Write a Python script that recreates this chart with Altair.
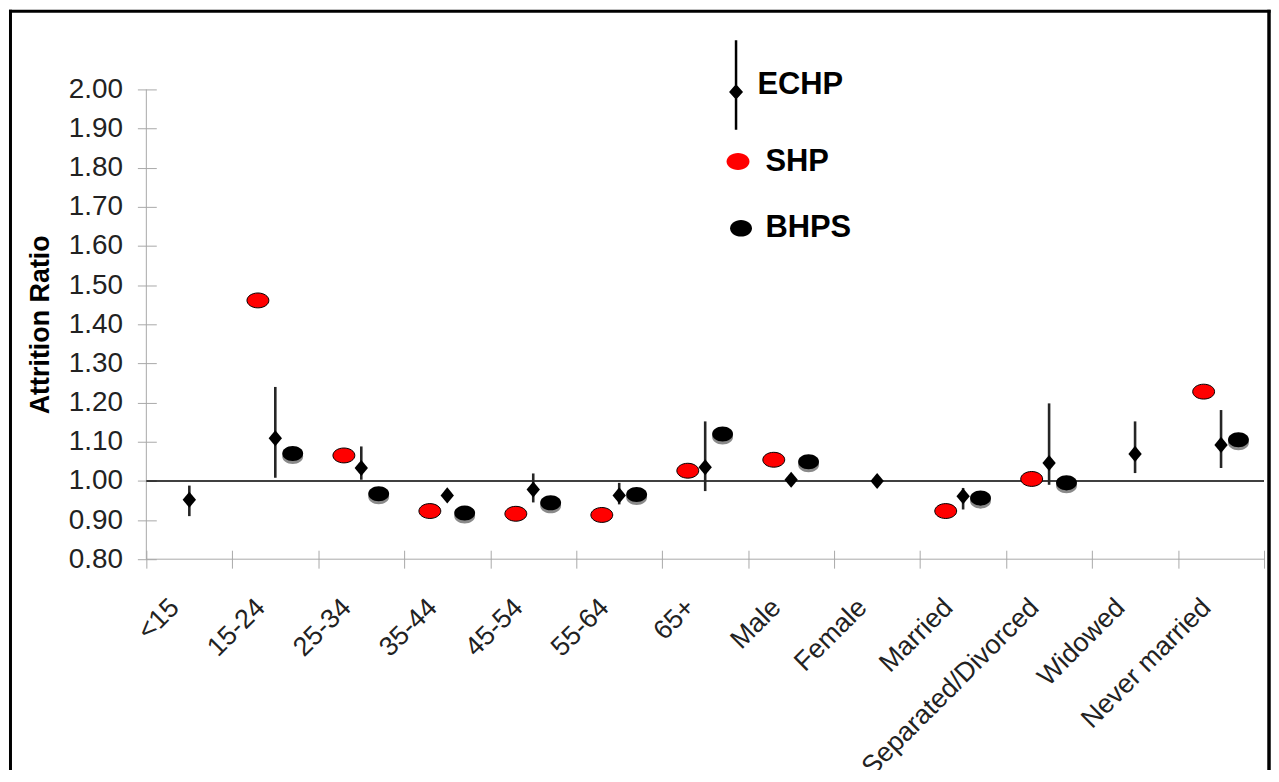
import altair as alt
import pandas as pd

# ---------------- data ----------------
categories = ["<15", "15-24", "25-34", "35-44", "45-54", "55-64", "65+",
              "Male", "Female", "Married", "Separated/Divorced", "Widowed",
              "Never married"]
echp = [0.952, 1.109, 1.033, 0.963, 0.978, 0.963, 1.035, 1.003, 1.000,
        0.961, 1.046, 1.069, 1.092]
echp_lo = [0.910, 1.008, 1.003, None, 0.945, 0.940, 0.974, None, None,
           0.927, 0.990, 1.020, 1.033]
echp_hi = [0.988, 1.240, 1.088, None, 1.019, 0.995, 1.152, None, None,
           0.982, 1.198, 1.152, 1.181]
shp = [None, 1.461, 1.065, 0.923, 0.916, 0.913, 1.026, 1.054, None,
       0.923, 1.005, None, 1.228]
bhps = [None, 1.070, 0.967, 0.918, 0.944, 0.965, 1.120, 1.049, None,
        0.956, 0.995, None, 1.105]
y_ticks = [0.80, 0.90, 1.00, 1.10, 1.20, 1.30, 1.40, 1.50, 1.60, 1.70,
           1.80, 1.90, 2.00]
y_min, y_max = 0.80, 2.00
offset_order = ["SHP", "ECHP", "BHPS"]
legend1_order = ["ECHP"]
legend2_order = ["SHP", "BHPS"]
reference_value = 1.0

# ---------------- tables ----------------
echp_df = pd.DataFrame({"category": categories, "series": "ECHP", "value": echp})
err_df = pd.DataFrame([
    {"category": c, "series": "ECHP", "lo": lo, "hi": hi}
    for c, lo, hi in zip(categories, echp_lo, echp_hi) if lo is not None
])
shp_df = pd.DataFrame([
    {"category": c, "series": "SHP", "value": v}
    for c, v in zip(categories, shp) if v is not None
])
bhps_df = pd.DataFrame([
    {"category": c, "series": "BHPS", "value": v}
    for c, v in zip(categories, bhps) if v is not None
])
legend1_df = pd.DataFrame({"series": legend1_order})
legend2_df = pd.DataFrame({"series": legend2_order})


# ---------------- symbol shapes (style) ----------------
def ellipse(rx, ry, cx=0.0, cy=0.0):
    k = 0.5523
    f = lambda v: f"{v:.4f}"
    return (f"M{f(cx-rx)},{f(cy)}"
            f"C{f(cx-rx)},{f(cy-k*ry)} {f(cx-k*rx)},{f(cy-ry)} {f(cx)},{f(cy-ry)}"
            f"C{f(cx+k*rx)},{f(cy-ry)} {f(cx+rx)},{f(cy-k*ry)} {f(cx+rx)},{f(cy)}"
            f"C{f(cx+rx)},{f(cy+k*ry)} {f(cx+k*rx)},{f(cy+ry)} {f(cx)},{f(cy+ry)}"
            f"C{f(cx-k*rx)},{f(cy+ry)} {f(cx-rx)},{f(cy+k*ry)} {f(cx-rx)},{f(cy)}Z")


diamond_path = "M-1,0L0,-1.2L1,0L0,1.2Z"
shp_path = ellipse(1.0, 0.68)
bhps_path = ellipse(1.0, 0.72)

# legend 1 symbol: 50px box (unit = 25px)
lx = 0.16
echp_leg = (f"M{lx-0.05:.3f},-1.8L{lx+0.05:.3f},-1.8L{lx+0.05:.3f},1.8L{lx-0.05:.3f},1.8Z"
            f"M{lx-0.28:.3f},0.28L{lx:.3f},-0.04L{lx+0.28:.3f},0.28L{lx:.3f},0.60Z")
# legend 2 symbols: 30px box (unit = 15px)
shp_leg = ellipse(0.767, 0.567, -0.8, 0.0)
bhps_leg = ellipse(0.733, 0.56, -0.6, 0.0)

# ---------------- encodings ----------------
axis_gray = "#a8a8a8"
x_enc = alt.X(
    "category:N", sort=categories,
    scale=alt.Scale(domain=categories, paddingInner=0, paddingOuter=0),
    axis=alt.Axis(title=None, labelAngle=315, labelAlign="right",
                  labelBaseline="middle", labelFontSize=27, labelPadding=35,
                  labelOffset=-15, tickBand="extent", tickSize=18, offset=-9,
                  domain=False, labelLimit=400, labelOverlap=False,
                  labelColor="#222222", tickColor=axis_gray, grid=False),
)
xo_enc = alt.XOffset("series:N", scale=alt.Scale(domain=offset_order,
                                                  paddingOuter=0.97,
                                                  paddingInner=0))
y_scale = alt.Scale(domain=[y_min, y_max], nice=False, zero=False)
y_axis = alt.Axis(values=y_ticks, format=".2f", title="Attrition Ratio",
                  titleFontSize=27, titleFontWeight="bold", titleColor="black",
                  titlePadding=14, labelFontSize=28, labelPadding=15,
                  labelOverlap=False, labelColor="#222222", tickSize=19,
                  offset=-10, domain=False, tickColor=axis_gray, grid=False)


def y_enc(field):
    return alt.Y(f"{field}:Q", scale=y_scale, axis=y_axis, title="Attrition Ratio")


def y_datum(v):
    return alt.YDatum(v, type="quantitative", scale=y_scale, axis=y_axis,
                      title="Attrition Ratio")


one = alt.Data(values=[{}])

# axis lines (drawn separately so the ticks can cross them)
x_domain = alt.Chart(one).mark_rule(color=axis_gray, strokeWidth=1).encode(
    y=y_datum(y_min))
y_domain = alt.Chart(one).mark_rule(color=axis_gray, strokeWidth=1).encode(
    x=alt.value(0))

ref_line = alt.Chart(one).mark_rule(color="black", strokeWidth=1.5).encode(
    y=y_datum(reference_value)
)

err = alt.Chart(err_df).mark_rule(color="#262626", strokeWidth=2.6).encode(
    x=x_enc, xOffset=xo_enc, y=y_enc("lo"), y2="hi:Q"
)

echp_pts = alt.Chart(echp_df).mark_point(
    shape=diamond_path, filled=True, color="black", size=180, opacity=1
).encode(x=x_enc, xOffset=xo_enc, y=y_enc("value"))

shp_pts = alt.Chart(shp_df).mark_point(
    shape=shp_path, filled=True, fill="#ff0000", stroke="black",
    strokeWidth=1, size=484, opacity=1
).encode(x=x_enc, xOffset=xo_enc, y=y_enc("value"))

bhps_shadow = alt.Chart(bhps_df).mark_point(
    shape=bhps_path, filled=True, color="#8a8a8a", size=441, opacity=1,
    yOffset=3
).encode(x=x_enc, xOffset=xo_enc, y=y_enc("value"))

bhps_pts = alt.Chart(bhps_df).mark_point(
    shape=bhps_path, filled=True, color="black", size=441, opacity=1
).encode(x=x_enc, xOffset=xo_enc, y=y_enc("value"))

common_leg = dict(orient="none", title=None, padding=0, labelOffset=0,
                  labelFontSize=31, labelFont="Liberation Sans",
                  labelFontWeight="bold", labelColor="black",
                  symbolStrokeColor="black", symbolStrokeWidth=1,
                  symbolOpacity=1)
legend1_def = alt.Legend(legendX=563, legendY=-30, symbolSize=2500, **common_leg)
legend2_def = alt.Legend(legendX=591, legendY=57, symbolSize=900,
                         rowPadding=35, **common_leg)

legend1_layer = alt.Chart(legend1_df).transform_filter("false").mark_point(
    filled=True, size=2500, stroke="black", strokeWidth=1, opacity=1
).encode(
    shape=alt.Shape("series:N", scale=alt.Scale(domain=legend1_order,
                    range=[echp_leg]), legend=legend1_def),
    fill=alt.Fill("series:N", scale=alt.Scale(domain=legend1_order,
                  range=["black"]), legend=legend1_def),
)
legend2_layer = alt.Chart(legend2_df).transform_filter("false").mark_point(
    filled=True, size=900, stroke="black", strokeWidth=1, opacity=1
).encode(
    shape=alt.Shape("series:N", scale=alt.Scale(domain=legend2_order,
                    range=[shp_leg, bhps_leg]), legend=legend2_def),
    fill=alt.Fill("series:N", scale=alt.Scale(domain=legend2_order,
                  range=["#ff0000", "black"]), legend=legend2_def),
)

# outer frame (decoration)
frame_top = alt.Chart(one).mark_rule(color="black", strokeWidth=3).encode(
    x=alt.value(-138), x2=alt.value(1129.5), y=alt.value(-78.5))
frame_left = alt.Chart(one).mark_rule(color="black", strokeWidth=3).encode(
    x=alt.value(-136.5), y=alt.value(-80), y2=alt.value(720))
frame_right = alt.Chart(one).mark_rule(color="black", strokeWidth=3.5).encode(
    x=alt.value(1128), y=alt.value(-80), y2=alt.value(720))

chart = alt.layer(
    x_domain, y_domain, ref_line, err, echp_pts, shp_pts, bhps_shadow,
    bhps_pts, legend1_layer, legend2_layer,
    frame_top, frame_left, frame_right,
).resolve_scale(
    shape="independent", fill="independent"
).properties(
    width=1123, height=472,
    autosize=alt.AutoSizeParams(type="none"),
    padding={"left": 139, "top": 80, "right": 7, "bottom": 210},
).configure(
    font="Liberation Sans", background="white"
).configure_view(stroke=None)

chart.save("out.html", embed_options={"renderer": "svg", "actions": False})
